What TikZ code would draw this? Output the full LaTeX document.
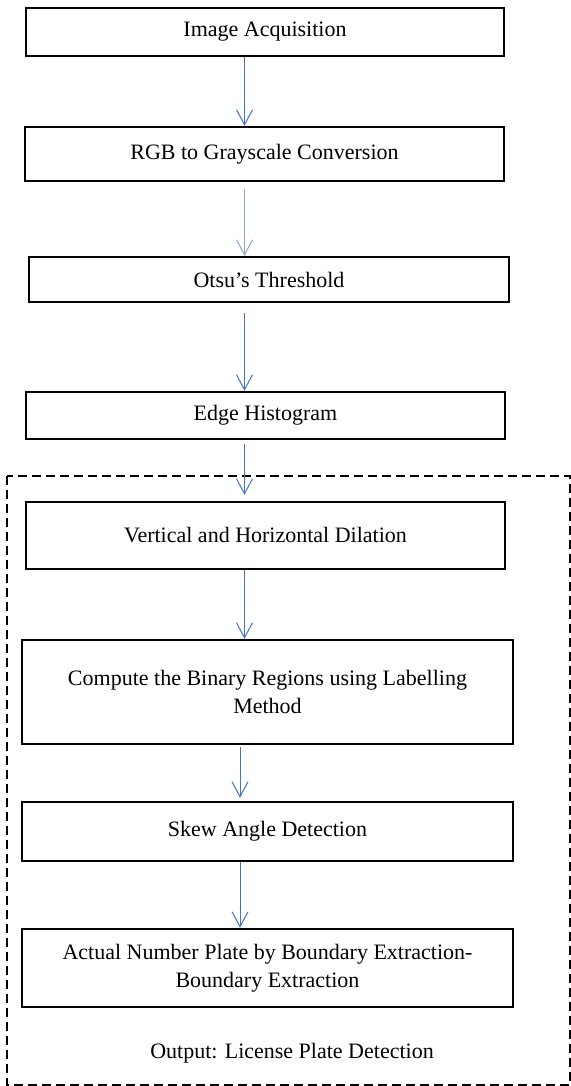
\documentclass[tikz,border=0pt]{standalone}
\usepackage{fontspec}
\setmainfont{Liberation Serif}
\usetikzlibrary{arrows.meta}
\definecolor{arrowblue}{HTML}{4472C4}
\definecolor{paleblue}{HTML}{8FA6CC}

\begin{document}
\begin{tikzpicture}[x=0.5pt, y=-0.5pt, >={Straight Barb[length=7.5pt, width=8pt]},
  stepbox/.style={draw, line width=1.2pt, align=center, inner sep=0pt,
    font=\fontsize{11}{14}\selectfont},
  flow/.style={->, arrowblue, line width=0.5pt}]
  \useasboundingbox (0,0) rectangle (571,1086);

  % boxes
  \node[stepbox, minimum width=239pt, minimum height=24pt] (acq) at (265, 32) {Image Acquisition};
  \node[stepbox, minimum width=239.5pt, minimum height=27pt] (gray) at (264.5, 154) {RGB to Grayscale Conversion};
  \node[stepbox, minimum width=240pt, minimum height=22.5pt] (otsu) at (269, 279.5) {Otsu's Threshold};
  \node[stepbox, minimum width=239.5pt, minimum height=23.5pt] (edge) at (265.5, 415.5) {Edge Histogram};
  \node[stepbox, minimum width=239.5pt, minimum height=33.5pt] (dil) at (265.5, 535.5) {Vertical and Horizontal Dilation};
  \node[stepbox, minimum width=245.5pt, minimum height=52pt] (lab) at (267.5, 692) {Compute the Binary Regions using Labelling\\Method};
  \node[stepbox, minimum width=245.5pt, minimum height=29.5pt] (skew) at (267.5, 831.5) {Skew Angle Detection};
  \node[stepbox, minimum width=245.5pt, minimum height=39pt] (plate) at (267.5, 968) {Actual Number Plate by Boundary Extraction-\\Boundary Extraction};

  \node[font=\fontsize{11}{14}\selectfont] (out) at (292, 1053) {Output: License Plate Detection};

  % dashed region
  \draw[line width=0.7pt, dash pattern=on 4.5pt off 2.5pt] (7,476) rectangle (570,1085);

  % arrows
  \coordinate (ax) at (244.5, 0);
  \coordinate (bx) at (240, 0);
  \draw[flow] (acq.south -| ax) -- (gray.north -| ax);
  \draw[->, paleblue, line width=0.5pt, shorten <=3.5pt] (gray.south -| ax) -- (otsu.north -| ax);
  \draw[flow, shorten <=5pt] (otsu.south -| ax) -- (edge.north -| ax);
  \draw[flow, shorten <=2pt, shorten >=3pt] (edge.south -| ax) -- (dil.north -| ax);
  \draw[flow] (dil.south -| ax) -- (lab.north -| ax);
  \draw[flow, shorten <=1pt, shorten >=1.5pt] (lab.south -| bx) -- (skew.north -| bx);
  \draw[flow] (skew.south -| bx) -- (plate.north -| bx);
\end{tikzpicture}
\end{document}
